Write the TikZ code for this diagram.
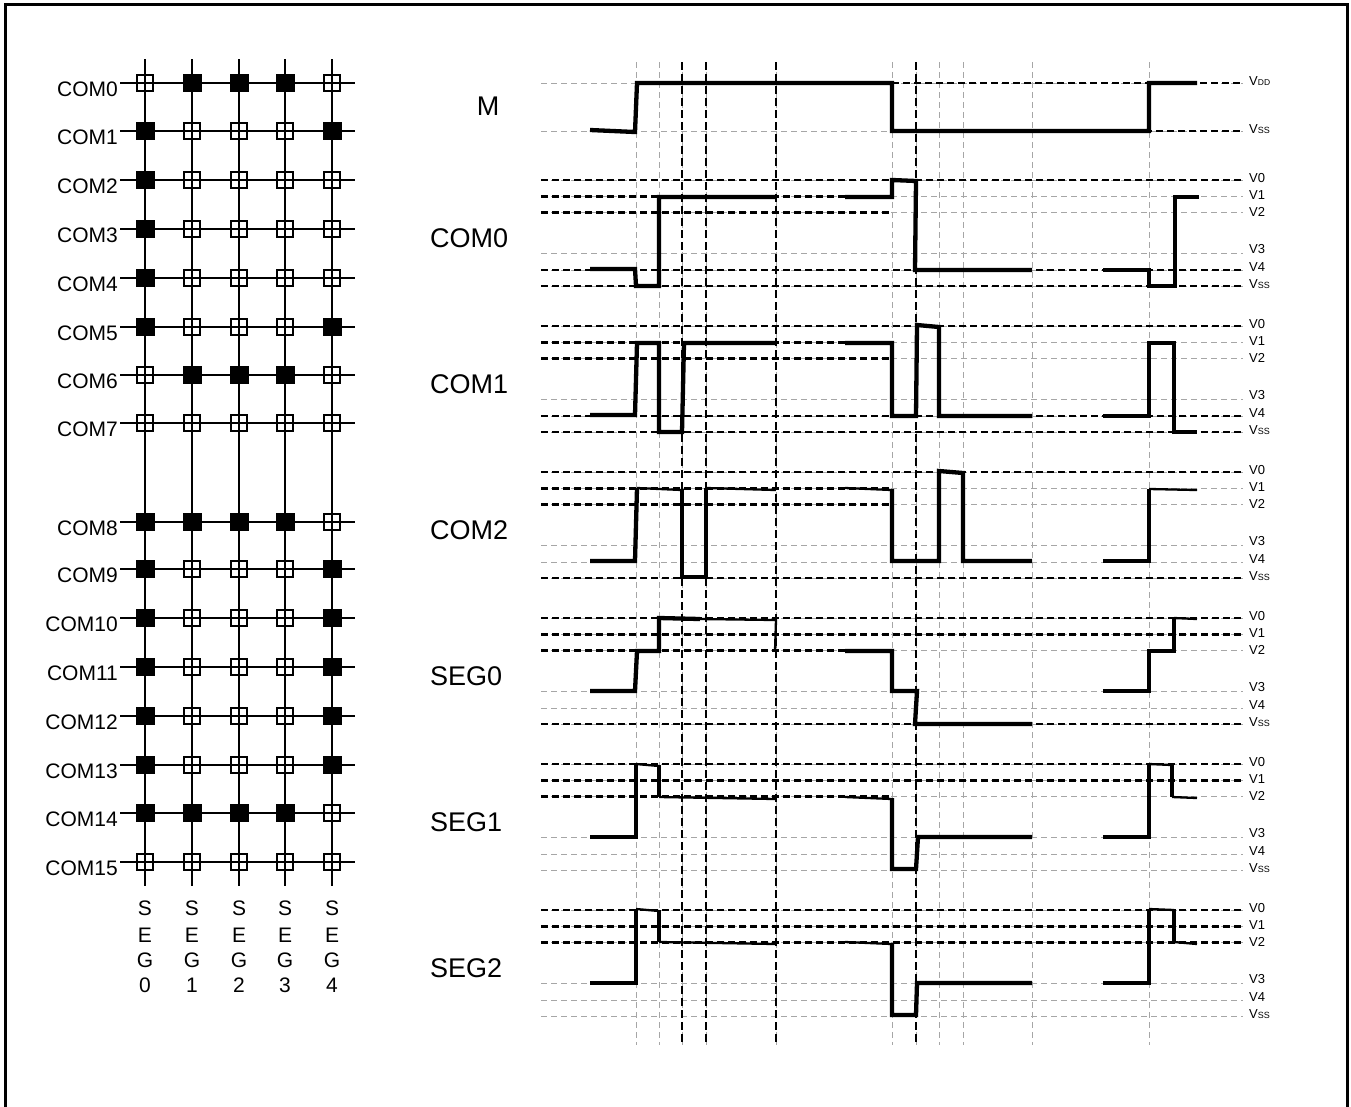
\documentclass[tikz,border=0pt]{standalone}
\usepackage{fontspec}
\setmainfont{Liberation Sans}
\begin{document}
\begin{tikzpicture}[x=1pt,y=-1pt,
 gridln/.style={line width=2pt},
 fsq/.style={fill=black, draw=none, minimum width=19pt, minimum height=17.5pt, inner sep=0pt},
 osq/.style={draw=black, line width=1.7pt, fill=none, minimum width=15.5pt, minimum height=15.5pt, inner sep=0pt},
 wave/.style={line width=4.3pt},
 thinwave/.style={line width=2.3pt},
 glvl/.style={draw=black!35, line width=0.8pt, dash pattern=on 6pt off 4pt},
 blvl/.style={line width=2.6pt, dash pattern=on 7pt off 4pt},
 gvt/.style={draw=black!35, line width=0.8pt, dash pattern=on 6pt off 4pt},
 bvt/.style={line width=2.9pt, dash pattern=on 8pt off 4pt},
 gl/.style={font=\fontsize{21}{21}\selectfont, inner sep=0pt},
 wl/.style={font=\fontsize{27}{27}\selectfont, inner sep=0pt},
 vl/.style={font=\fontsize{13}{13}\selectfont, inner sep=0pt, anchor=west},
]
\useasboundingbox (0,0) rectangle (1351,1106);
% frame
\draw[line width=3pt] (5,1112) -- (5,4) -- (1347,4) -- (1347,1112);

% ---------------- left grid ----------------
\foreach \x in {145,192,239,285,332} \draw[gridln] (\x,59) -- (\x,886);
\foreach \y/\n/\a/\b/\cc/\d/\e in {83/0/0/1/1/1/0, 131/1/1/0/0/0/1, 180/2/1/0/0/0/0, 229/3/1/0/0/0/0,
  278/4/1/0/0/0/0, 327/5/1/0/0/0/1, 375/6/0/1/1/1/0, 423/7/0/0/0/0/0,
  522/8/1/1/1/1/0, 569/9/1/0/0/0/1, 618/10/1/0/0/0/1, 667/11/1/0/0/0/1,
  716/12/1/0/0/0/1, 765/13/1/0/0/0/1, 813/14/1/1/1/1/0, 862/15/0/0/0/0/0}{
  \draw[gridln] (120,\y) -- (355,\y);
  \node[gl, anchor=base east] (cl\n) at (118,\y+13) {COM\n};
  \foreach \x/\f/\k in {145/\a/0,192/\b/1,239/\cc/2,285/\d/3,332/\e/4}{
    \ifnum\f=1 \node[fsq] (q\n-\k) at (\x,\y) {};
    \else \node[osq] (q\n-\k) at (\x,\y) {}; \fi
  }
}
\foreach \x [count=\c from 0] in {145,192,239,285,332}{
  \node[gl, anchor=base] (sa\c) at (\x,915) {S};
  \node[gl, anchor=base] (sb\c) at (\x,942) {E};
  \node[gl, anchor=base] (sc\c) at (\x,967) {G};
  \node[gl, anchor=base] (sd\c) at (\x,992) {\c};
}

% ---------------- timing grid ----------------
\foreach \x in {636,659,682,706,776,892,916,939,963,1032,1149} \draw[gvt] (\x,62) -- (\x,1045);
% M levels
\draw[glvl] (541,83) -- (1243,83);
\draw[glvl] (541,131) -- (1243,131);
\draw[blvl] (892,83) -- (1243,83);
\draw[blvl] (892,131) -- (1243,131);
% block levels: 2 = black full, 1 = black left, 0 = grey
\foreach \base/\ka/\kb/\kc/\kd/\ke/\kf in {180/2/1/1/0/2/2, 326/2/1/1/0/2/2, 472/2/1/1/0/0/2,
   618/2/2/1/0/0/2, 764/2/2/1/0/0/0, 910/2/2/2/0/0/0}{
  \foreach \off/\k in {0/\ka,16.5/\kb,32.5/\kc,73/\kd,90/\ke,106/\kf}{
    \draw[glvl] (541,\base+\off) -- (1243,\base+\off);
    \ifnum\k=2 \draw[blvl] (541,\base+\off) -- (1243,\base+\off); \fi
    \ifnum\k=1 \draw[blvl] (541,\base+\off) -- (892,\base+\off); \fi
  }
  \node[vl] (va\base) at (1249,\base-2) {V0};
  \node[vl] (vb\base) at (1249,\base+15.5) {V1};
  \node[vl] (vc\base) at (1249,\base+32) {V2};
  \node[vl] (vd\base) at (1249,\base+69) {V3};
  \node[vl] (ve\base) at (1249,\base+87) {V4};
  \node[vl] (vf\base) at (1249,\base+104) {V{\fontsize{9}{9}\selectfont SS}};
}
\node[vl] (vdd) at (1249,81) {V{\fontsize{8.5}{8.5}\selectfont DD}};
\node[vl] (vss) at (1249,129) {V{\fontsize{9}{9}\selectfont SS}};
\foreach \x in {682,706,776,916} \draw[bvt] (\x,62) -- (\x,1045);

% labels
\node[wl, anchor=base] (lM) at (488,115) {M};
\node[wl, anchor=base west] (lC0) at (430,247) {COM0};
\node[wl, anchor=base west] (lC1) at (430,393) {COM1};
\node[wl, anchor=base west] (lC2) at (430,539) {COM2};
\node[wl, anchor=base west] (lS0) at (430,685) {SEG0};
\node[wl, anchor=base west] (lS1) at (430,831) {SEG1};
\node[wl, anchor=base west] (lS2) at (430,977) {SEG2};

% ---------------- waveforms ----------------
% M
\draw[wave] (590,130) -- (635,132) -- (637,83) -- (892,83) -- (892,131) -- (1149,131) -- (1149,83) -- (1197,83);
% COM0
\draw[wave] (590,269) -- (635,269) -- (636,286) -- (659,286) -- (659,197) -- (776,197);
\draw[wave] (845,197) -- (892,197) -- (892,180) -- (916,181) -- (915,270) -- (1032,270);
\draw[wave] (1103,270) -- (1149,270) -- (1149,286) -- (1175,286) -- (1175,197) -- (1199,197);
% COM1
\draw[wave] (590,415) -- (635,415) -- (637,343) -- (659,343) -- (659,432) -- (682,432) -- (684,343) -- (776,343);
\draw[wave] (845,343) -- (892,343) -- (892,416) -- (916,416) -- (917,325) -- (939,327) -- (939,416) -- (1032,416);
\draw[wave] (1103,416) -- (1149,416) -- (1149,343) -- (1174,343) -- (1174,432) -- (1197,432);
% COM2
\draw[wave] (590,561) -- (635,561) -- (637,488);
\draw[thinwave] (637,488) -- (682,490);
\draw[wave] (682,489) -- (682,577) -- (706,577) -- (706,488);
\draw[thinwave] (706,488) -- (776,490);
\draw[thinwave] (845,488) -- (892,490);
\draw[wave] (892,489) -- (892,561) -- (939,561) -- (939,471) -- (963,473) -- (963,561) -- (1032,561);
\draw[wave] (1103,561) -- (1149,561) -- (1149,489);
\draw[thinwave] (1149,489) -- (1197,490);
% SEG0
\draw[wave] (590,691) -- (635,691) -- (637,651) -- (659,651) -- (659,618) -- (700,619);
\draw[thinwave] (700,619) -- (776,620) -- (775,651);
\draw[wave] (845,651) -- (892,651) -- (892,691) -- (917,691) -- (915,724) -- (1032,724);
\draw[wave] (1103,691) -- (1149,691) -- (1149,651) -- (1174,651) -- (1174,618);
\draw[thinwave] (1174,618) -- (1197,619);
% SEG1
\draw[wave] (590,837) -- (636,837) -- (636,764);
\draw[thinwave] (636,764) -- (659,766);
\draw[wave] (659,765) -- (659,797);
\draw[thinwave] (659,797) -- (776,799);
\draw[thinwave] (845,797) -- (892,799);
\draw[wave] (892,798) -- (892,869) -- (916,869) -- (918,837) -- (1032,837);
\draw[wave] (1103,837) -- (1149,837) -- (1149,764);
\draw[thinwave] (1149,764) -- (1172,765);
\draw[wave] (1172,764) -- (1172,797);
\draw[thinwave] (1172,797) -- (1197,798);
% SEG2
\draw[wave] (590,983) -- (636,983) -- (636,909);
\draw[thinwave] (636,909) -- (659,911);
\draw[wave] (659,910) -- (659,942);
\draw[thinwave] (659,942) -- (776,944);
\draw[thinwave] (845,942) -- (892,944);
\draw[wave] (892,943) -- (892,1015) -- (916,1015) -- (917,983) -- (1032,983);
\draw[wave] (1103,983) -- (1149,983) -- (1149,909);
\draw[thinwave] (1149,909) -- (1174,910);
\draw[wave] (1174,909) -- (1174,942);
\draw[thinwave] (1174,942) -- (1197,944);
\end{tikzpicture}
\end{document}
